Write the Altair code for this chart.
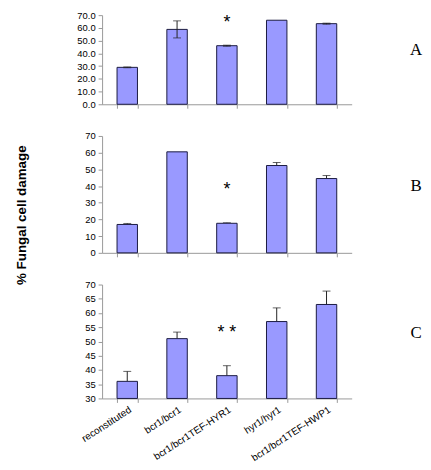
import altair as alt
import pandas as pd

cats = ["reconstituted", "bcr1/bcr1", "bcr1/bcr1TEF-HYR1", "hyr1/hyr1", "bcr1/bcr1TEF-HWP1"]

a_vals = [29.0, 58.8, 46.0, 66.0, 63.3]
a_err = [0.3, 6.7, 0.4, 0.0, 0.4]

b_vals = [17.0, 60.5, 17.7, 52.3, 44.5]
b_err = [0.6, 0.0, 0.3, 1.8, 1.8]

c_vals = [36.0, 51.0, 38.0, 57.0, 63.0]
c_err = [3.5, 2.3, 3.5, 4.8, 4.7]

a_ticks = [0, 10, 20, 30, 40, 50, 60, 70]
b_ticks = [0, 10, 20, 30, 40, 50, 60, 70]
c_ticks = [30, 35, 40, 45, 50, 55, 60, 65, 70]

stars = [("A", 67.5, "*"), ("B", 40.8, "*"), ("C", 54.6, "* *")]
letters = ["A", "B", "C"]
y_title = "% Fungal cell damage"

W = 252
FONT = "Liberation Sans"
BAR_FILL = "#9999FF"
BAR_STROKE = "#1a1a40"


def panel(vals, errs, H, dom, ticks, fmt, show_labels, two_sided, star, letter, letter_y, title_y=None):
    df = pd.DataFrame({
        "cat": cats,
        "val": vals,
        "base": [dom[0]] * len(cats),
        "lo": [v - e if two_sided else v for v, e in zip(vals, errs)],
        "hi": [v + e for v, e in zip(vals, errs)],
        "has": [e > 0 for e in errs],
    })
    xaxis = alt.Axis(title=None, labels=show_labels, tickBand="extent",
                     labelAngle=-33, labelFontSize=10, labelFont=FONT,
                     labelColor="#000", domainColor="#999", tickColor="#999",
                     tickSize=4, labelPadding=2, labelLimit=200)
    xscale = alt.Scale(paddingInner=0.59, paddingOuter=0.3)

    def X():
        return alt.X("cat:N", sort=cats, scale=xscale, axis=xaxis)

    yscale = alt.Scale(domain=dom, zero=False, nice=False)
    yaxis = alt.Axis(title=None, values=ticks, format=fmt, labelFontSize=9.5, labelFont=FONT,
                     labelColor="#000", domainColor="#999", tickColor="#999", tickSize=4,
                     grid=False, labelPadding=3, labelOverlap=False, labelFlush=False)

    def Y(f):
        return alt.Y(f, scale=yscale, axis=yaxis)

    base = alt.Chart(df)
    bars = base.mark_bar(fill=BAR_FILL, stroke=BAR_STROKE, strokeWidth=1).encode(
        x=X(), y=Y("val:Q"), y2="base:Q")
    eb = base.transform_filter("datum.has")
    err = eb.mark_rule(color="#222", strokeWidth=1).encode(x=X(), y=Y("lo:Q"), y2="hi:Q")
    cap_hi = eb.mark_tick(color="#222", size=8, thickness=1, orient="horizontal").encode(
        x=X(), y=Y("hi:Q"))
    if two_sided:
        cap_lo = eb.mark_tick(color="#222", size=8, thickness=1, orient="horizontal").encode(
            x=X(), y=Y("lo:Q"))
        layers = [bars, err, cap_hi, cap_lo]
    else:
        layers = [err, cap_hi, bars]
    sdf = pd.DataFrame({"cat": [cats[2]], "y": [star[1]], "t": [star[2]]})
    star_layer = alt.Chart(sdf).mark_text(font=FONT, fontSize=18, color="#000", baseline="middle", dy=5).encode(
        x=X(), y=Y("y:Q"), text="t:N")
    ldf = pd.DataFrame({"t": [letter]})
    letter_layer = alt.Chart(ldf).mark_text(font="Liberation Serif", fontSize=17, color="#000",
                                            baseline="middle", align="center").encode(
        x=alt.value(317), y=alt.value(letter_y), text="t:N")
    layers += [star_layer, letter_layer]
    if title_y is not None:
        tdf = pd.DataFrame({"t": [y_title]})
        layers.append(alt.Chart(tdf).mark_text(font=FONT, fontSize=13.5, fontWeight="bold", color="#000",
                                                angle=270, baseline="middle", align="center").encode(
            x=alt.value(-81), y=alt.value(title_y), text="t:N"))
    return alt.layer(*layers).properties(width=W, height=H)


pa = panel(a_vals, a_err, 90, [0, 70], a_ticks, ".1f", False, True, stars[0], letters[0], 35)
pb = panel(b_vals, b_err, 118, [0, 70], b_ticks, "d", False, False, stars[1], letters[1], 51, title_y=80)
pc = panel(c_vals, c_err, 115, [30, 70], c_ticks, "d", True, False, stars[2], letters[2], 49)

chart = alt.vconcat(pa, pb, pc, spacing=32, bounds="flush").properties(
    padding={"left": 7, "top": 0, "right": 0, "bottom": 0}
).configure_view(stroke=None)

chart.save("out.html", embed_options={"renderer": "svg", "actions": False})
